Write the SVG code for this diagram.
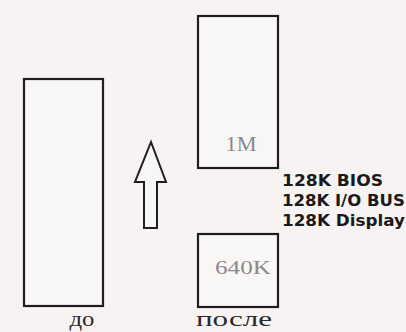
<svg xmlns="http://www.w3.org/2000/svg" width="406" height="332" viewBox="0 0 406 332">
<style>
.box{fill:#f9f6f6;stroke:#1e1e1e;stroke-width:2.2}
.lbl{font-family:"Liberation Serif","Times New Roman",serif;fill:#8a8a8a;text-anchor:middle}
.cap{font-family:"Liberation Serif","Times New Roman",serif;fill:#2a2a2a;text-anchor:middle}
.note{font-family:"DejaVu Sans",Verdana,sans-serif;font-weight:bold;font-size:16.5px;fill:#1a1a1a}
</style>
<rect width="406" height="332" fill="#f7f3f3"/>
<g id="before">
<rect class="box" x="24" y="79" width="79" height="227"/>
<text class="cap" x="82" y="326" font-size="20" textLength="25" lengthAdjust="spacingAndGlyphs">до</text>
</g>
<g id="after-top">
<rect class="box" x="198" y="16" width="80" height="152"/>
<text class="lbl" x="241" y="151" font-size="20" textLength="31" lengthAdjust="spacingAndGlyphs">1M</text>
</g>
<g id="after-bottom">
<rect class="box" x="198" y="234" width="80" height="73"/>
<text class="lbl" x="243" y="274" font-size="18" textLength="56" lengthAdjust="spacingAndGlyphs">640K</text>
<text class="cap" x="234" y="326" font-size="20" textLength="76" lengthAdjust="spacingAndGlyphs">после</text>
</g>
<g id="notes">
<text class="note" x="282" y="186" textLength="101" lengthAdjust="spacingAndGlyphs">128K BIOS</text>
<text class="note" x="282" y="206">128K I/O BUS</text>
<text class="note" x="282" y="226" textLength="123" lengthAdjust="spacingAndGlyphs">128K Display</text>
</g>
<g id="connectors">
<polygon points="151,142 166,182 157,182 157,228 144,228 144,182 135,182" fill="#f9f6f6" stroke="#1e1e1e" stroke-width="2" stroke-linejoin="miter"/>
</g>
</svg>
